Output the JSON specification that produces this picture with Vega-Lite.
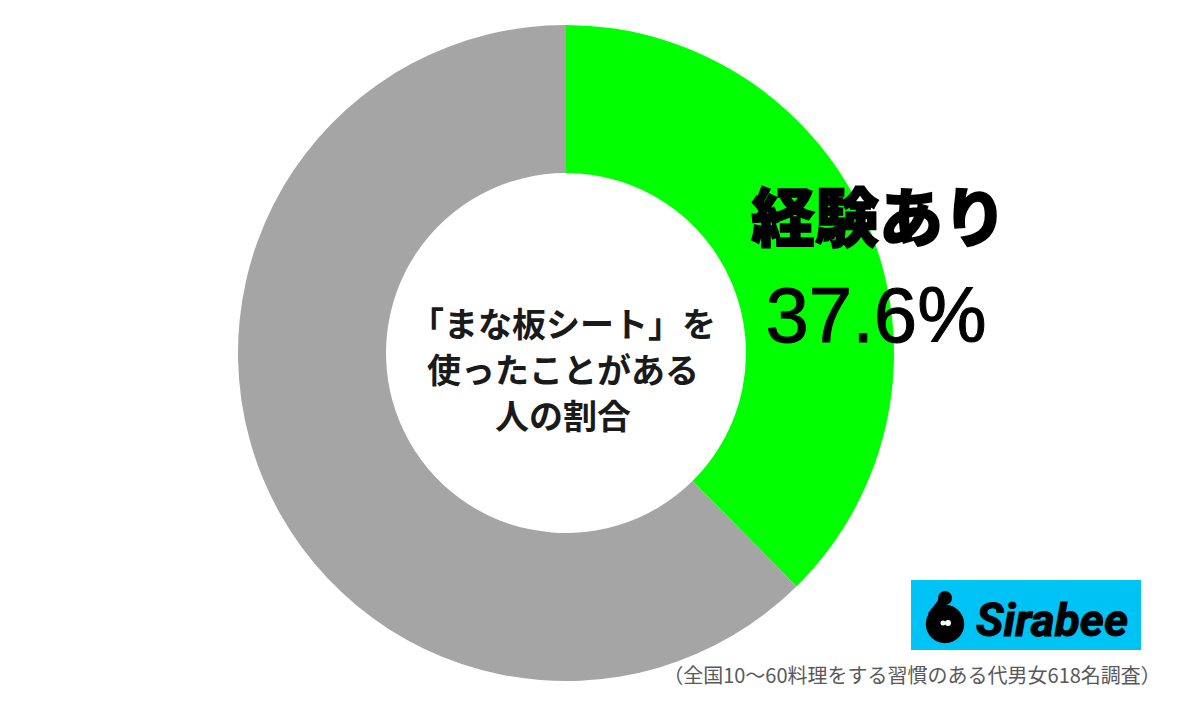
{
  "$schema": "https://vega.github.io/schema/vega-lite/v6.json",
  "width": 1132,
  "height": 706,
  "autosize": "none",
  "padding": {"left": 0, "top": 0, "right": 68, "bottom": 10},
  "background": "white",
  "config": {"view": {"stroke": null}},
  "layer": [
    {
      "data": {"values": [
        {"category": "経験あり", "value": 37.6},
        {"category": "経験なし", "value": 62.4}
      ]},
      "mark": {"type": "arc", "outerRadius": 328, "innerRadius": 180},
      "encoding": {
        "theta": {"field": "value", "type": "quantitative", "stack": true},
        "order": {"field": "value", "type": "quantitative", "sort": "ascending"},
        "color": {
          "field": "category",
          "type": "nominal",
          "legend": null,
          "scale": {"domain": ["経験あり", "経験なし"], "range": ["#00ff00", "#a5a5a5"]}
        }
      }
    },
    {
      "data": {"values": [{"label": "経験あり"}]},
      "mark": {"type": "text", "font": "Noto Sans CJK JP", "fontWeight": 900, "fontSize": 64, "dx": 313, "dy": -131, "stroke": "black", "strokeWidth": 1.5, "color": "black"},
      "encoding": {"text": {"field": "label"}}
    },
    {
      "data": {"values": [{"label": "37.6%"}]},
      "mark": {"type": "text", "font": "Liberation Sans", "fontSize": 78, "dx": 310, "dy": -34, "color": "black", "stroke": "black", "strokeWidth": 1},
      "encoding": {"text": {"field": "label"}}
    },
    {
      "data": {"values": [{"label": "「まな板シート」を\n使ったことがある\n人の割合"}]},
      "mark": {"type": "text", "font": "Noto Sans CJK JP", "fontWeight": 700, "fontSize": 34, "lineBreak": "\n", "lineHeight": 46, "dx": -3, "dy": -26, "color": "#1a1a1a"},
      "encoding": {"text": {"field": "label"}}
    },
    {
      "data": {"values": [{"label": "（全国10～60料理をする習慣のある代男女618名調査）"}]},
      "mark": {"type": "text", "font": "Noto Sans CJK JP", "fontSize": 20, "dx": 346, "dy": 324, "color": "#595959"},
      "encoding": {"text": {"field": "label"}}
    },
    {
      "data": {"values": [{"part": "logo"}]},
      "mark": {"type": "rect", "color": "#00c3f5"},
      "encoding": {
        "x": {"datum": 911, "type": "quantitative", "axis": null, "scale": {"domain": [0, 1132], "range": [0, 1132], "nice": false}},
        "x2": {"datum": 1141},
        "y": {"datum": 580, "type": "quantitative", "axis": null, "scale": {"domain": [0, 706], "range": [0, 706], "nice": false}},
        "y2": {"datum": 650}
      }
    },
    {
      "data": {"values": [{"part": "neck"}]},
      "mark": {"type": "rule", "color": "black", "strokeWidth": 8},
      "encoding": {
        "x": {"datum": 945, "type": "quantitative"},
        "x2": {"datum": 931},
        "y": {"datum": 598, "type": "quantitative"},
        "y2": {"datum": 616}
      }
    },
    {
      "data": {"values": [{"part": "body"}]},
      "mark": {"type": "point", "shape": "circle", "filled": true, "color": "black", "opacity": 1, "size": 1480},
      "encoding": {"x": {"datum": 945, "type": "quantitative"}, "y": {"datum": 624, "type": "quantitative"}}
    },
    {
      "data": {"values": [{"part": "head"}]},
      "mark": {"type": "point", "shape": "circle", "filled": true, "color": "black", "opacity": 1, "size": 196},
      "encoding": {"x": {"datum": 945, "type": "quantitative"}, "y": {"datum": 598, "type": "quantitative"}}
    },
    {
      "data": {"values": [{"part": "eye"}]},
      "mark": {"type": "point", "shape": "circle", "filled": true, "color": "white", "opacity": 1, "size": 25},
      "encoding": {"x": {"datum": 943, "type": "quantitative"}, "y": {"datum": 623, "type": "quantitative"}}
    },
    {
      "data": {"values": [{"part": "eye"}]},
      "mark": {"type": "point", "shape": "circle", "filled": true, "color": "white", "opacity": 1, "size": 36},
      "encoding": {"x": {"datum": 948, "type": "quantitative"}, "y": {"datum": 623, "type": "quantitative"}}
    },
    {
      "data": {"values": [{"label": "Sirabee"}]},
      "mark": {"type": "text", "font": "Roboto", "fontWeight": 700, "fontStyle": "italic", "fontSize": 46, "dx": 486, "dy": 269, "color": "black", "stroke": "black", "strokeWidth": 1},
      "encoding": {"text": {"field": "label"}}
    }
  ]
}
